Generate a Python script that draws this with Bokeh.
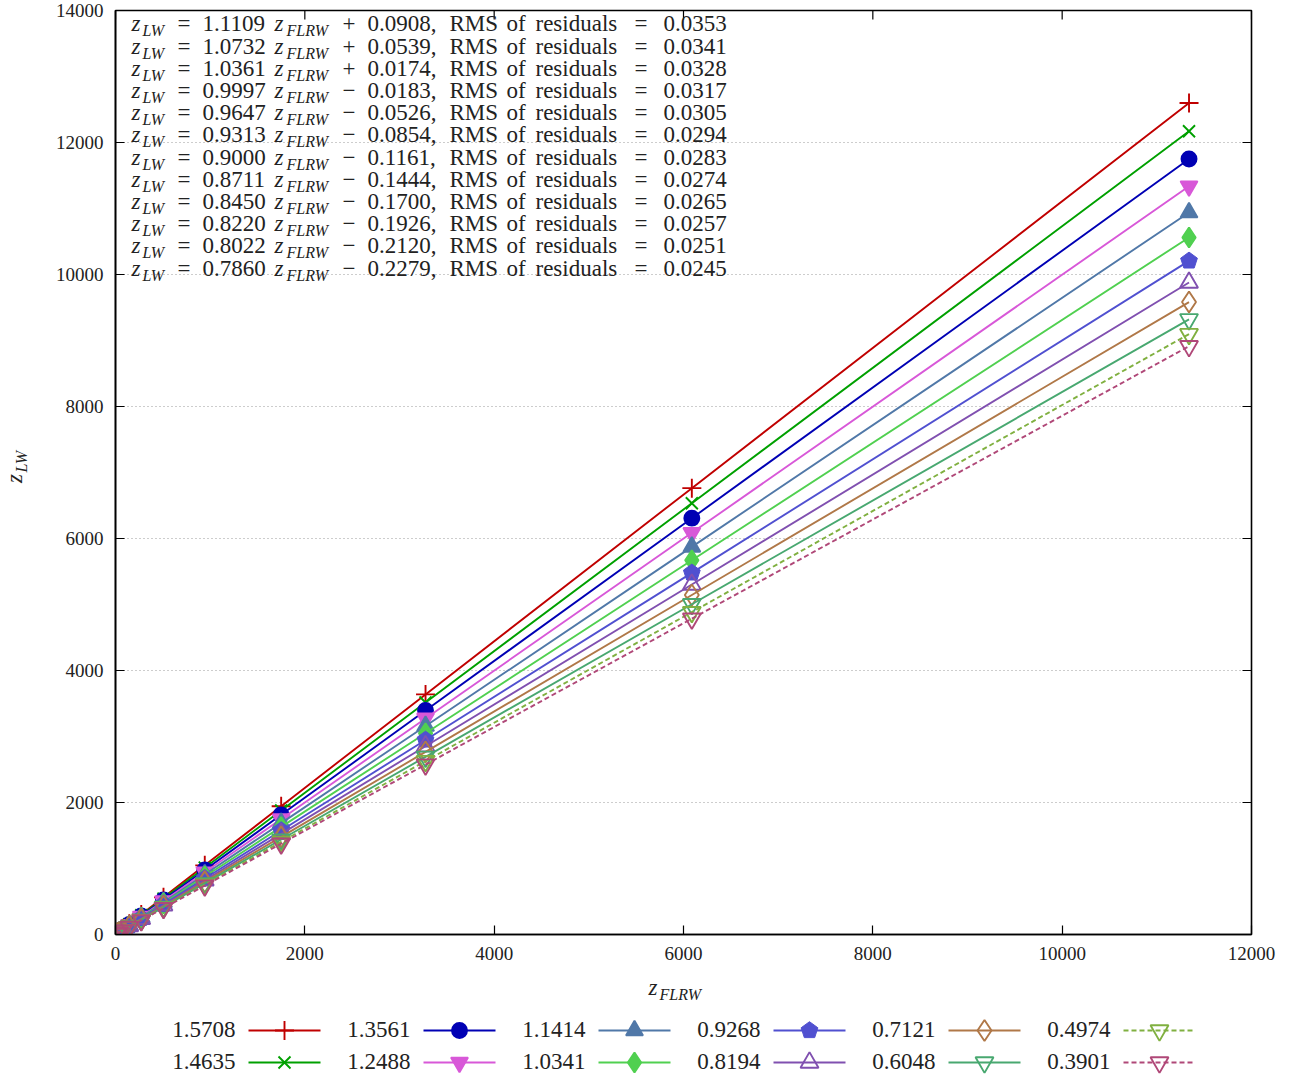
import math
from bokeh.plotting import figure
from bokeh.models import Range1d, FixedTicker
from bokeh.layouts import column, row
from bokeh.embed import file_html
from bokeh.resources import INLINE
from bokeh.core.properties import value

# ---------------- data ----------------
z_flrw = [12, 23, 42, 79, 146, 272, 507, 943, 1750, 3275, 6088, 11340]

legend_labels = ["1.5708", "1.4635", "1.3561", "1.2488", "1.1414", "1.0341",
                 "0.9268", "0.8194", "0.7121", "0.6048", "0.4974", "0.3901"]

z_lw_15708 = [13, 26, 47, 88, 162, 302, 563, 1048, 1944, 3638, 6763, 12598]
z_lw_14635 = [13, 25, 45, 85, 157, 292, 544, 1012, 1878, 3515, 6534, 12170]
z_lw_13561 = [12, 24, 44, 82, 151, 282, 525, 977, 1813, 3393, 6308, 11749]
z_lw_12488 = [12, 23, 42, 79, 146, 272, 507, 943, 1749, 3274, 6086, 11337]
z_lw_11414 = [12, 22, 41, 76, 141, 262, 489, 910, 1688, 3159, 5873, 10940]
z_lw_10341 = [11, 21, 39, 74, 136, 253, 472, 878, 1630, 3050, 5670, 10561]
z_lw_09268 = [11, 21, 38, 71, 131, 245, 456, 849, 1575, 2948, 5479, 10206]
z_lw_08194 = [10, 20, 37, 69, 127, 237, 442, 821, 1524, 2853, 5303, 9878]
z_lw_07121 = [10, 19, 35, 67, 123, 230, 428, 797, 1479, 2767, 5144, 9582]
z_lw_06048 = [10, 19, 35, 65, 120, 224, 417, 775, 1439, 2692, 5004, 9321]
z_lw_04974 = [10, 18, 34, 63, 117, 218, 407, 756, 1404, 2627, 4884, 9097]
z_lw_03901 = [9, 18, 33, 62, 115, 214, 399, 741, 1376, 2574, 4785, 8913]

fit_slopes = ["1.1109", "1.0732", "1.0361", "0.9997", "0.9647", "0.9313",
              "0.9000", "0.8711", "0.8450", "0.8220", "0.8022", "0.7860"]
fit_signs = ["+", "+", "+", "\u2212", "\u2212", "\u2212",
             "\u2212", "\u2212", "\u2212", "\u2212", "\u2212", "\u2212"]
fit_intercepts = ["0.0908", "0.0539", "0.0174", "0.0183", "0.0526", "0.0854",
                  "0.1161", "0.1444", "0.1700", "0.1926", "0.2120", "0.2279"]
fit_rms = ["0.0353", "0.0341", "0.0328", "0.0317", "0.0305", "0.0294",
           "0.0283", "0.0274", "0.0265", "0.0257", "0.0251", "0.0245"]

x_ticks = [0, 2000, 4000, 6000, 8000, 10000, 12000]
y_ticks = [0, 2000, 4000, 6000, 8000, 10000, 12000, 14000]

series_values = [z_lw_15708, z_lw_14635, z_lw_13561, z_lw_12488, z_lw_11414, z_lw_10341,
                 z_lw_09268, z_lw_08194, z_lw_07121, z_lw_06048, z_lw_04974, z_lw_03901]

# ---------------- styles ----------------
colors = ["#c00000", "#00a000", "#0000b4", "#d858d8", "#5078a8", "#50d050",
          "#5050d0", "#8050b0", "#b07848", "#48a870", "#80b040", "#b04878"]
markers = ["cross", "x", "circle", "inverted_triangle", "triangle", "diamond",
           "pentagon", "triangle", "diamond", "inverted_triangle", "inverted_triangle", "inverted_triangle"]
filled = [True, True, True, True, True, True, True, False, False, False, False, False]
dashes = ["solid"] * 10 + ["5 3", "5 3"]
msizes = [19, 17, 15, 17, 17, 20, 16, 18, 21, 18, 18, 18]

FONT = "Liberation Serif"
E_TXT, E_SUB = 23, 16
FS_TICK = "19px"
FS_TXT = "%dpx" % E_TXT
FS_SUB = "%dpx" % E_SUB
TXT = "#222222"
LW = 1.9
SHIFT = 0.35            # renderer places alphabetic baselines this many ems lower
SUB_DROP = 4.5          # subscript baseline drop in px

W_TOTAL = 1304
YLAB_W = 40
P_W = W_TOTAL - YLAB_W
P_H = 970
BOT_H = 110
FRAME_L, FRAME_R, FRAME_T, FRAME_B = 75, 1211, 10, 934   # in p's own coords
PAGE_X0 = YLAB_W + FRAME_L   # page x of the frame's left edge
PAGE_Y0 = FRAME_T            # page y of the frame's top edge
PX_X = 12000 / (FRAME_R - FRAME_L)   # data units per pixel
PX_Y = 14000 / (FRAME_B - FRAME_T)


def draw_marker(fig, xs, ys, marker, color, fill, size, ux=1.0, uy=-1.0):
    if marker == "pentagon":
        r = size * 0.55
        pxs, pys = [], []
        for x0, y0 in zip(xs, ys):
            pxs.append([x0 + r * math.cos(math.radians(90 + 72 * k)) * ux for k in range(5)])
            pys.append([y0 + r * math.sin(math.radians(90 + 72 * k)) * uy for k in range(5)])
        fig.patches(xs=pxs, ys=pys, fill_color=color, line_color=color, line_width=1)
        return
    fig.scatter(x=xs, y=ys, marker=marker, size=size, line_color=color,
                fill_color=color if fill else None, line_width=1.9)


# ---------------- main plot ----------------
p = figure(width=P_W, height=P_H, x_range=Range1d(0, 12000), y_range=Range1d(0, 14000),
           output_backend="svg", toolbar_location=None,
           min_border_left=FRAME_L, min_border_right=P_W - FRAME_R,
           min_border_top=FRAME_T, min_border_bottom=P_H - FRAME_B)
p.background_fill_color = "white"
p.border_fill_color = "white"
p.outline_line_color = "black"
p.outline_line_width = 1.6

for ax, ticks in ((p.xaxis[0], x_ticks), (p.yaxis[0], y_ticks)):
    ax.ticker = FixedTicker(ticks=ticks)
    ax.major_tick_in = 9
    ax.major_tick_out = 0
    ax.major_tick_line_color = "black"
    ax.major_tick_line_width = 1.2
    ax.minor_tick_line_color = None
    ax.axis_line_color = "black"
    ax.axis_line_width = 1.6
    ax.major_label_text_font = FONT
    ax.major_label_text_font_size = FS_TICK
    ax.major_label_text_color = TXT
p.xaxis[0].major_label_standoff = 12
p.yaxis[0].major_label_standoff = 12

p.xgrid.grid_line_color = None
p.ygrid.ticker = FixedTicker(ticks=y_ticks)
p.ygrid.grid_line_color = "#9a9a9a"
p.ygrid.grid_line_dash = "1 3"
p.ygrid.grid_line_width = 1

# mirrored inward ticks on the top and right edges (dash markers clipped by the frame)
p.scatter(x=x_ticks, y=[y_ticks[-1]] * len(x_ticks), marker="dash", angle=math.pi / 2,
          size=18, line_color="black", line_width=1.2)
p.scatter(x=[x_ticks[-1]] * len(y_ticks), y=y_ticks, marker="dash",
          size=18, line_color="black", line_width=1.2)

for vals, c, m, f, d, s in zip(series_values, colors, markers, filled, dashes, msizes):
    p.line(x=z_flrw, y=vals, line_color=c, line_width=LW, line_dash=d)
    draw_marker(p, z_flrw, vals, m, c, f, s, ux=PX_X, uy=PX_Y)

# fit equations (text pieces positioned in pixels from the frame's top-left)
piece_x = {"z1": 131, "sub1": 142, "eq1": 177, "coef": 202, "z2": 274, "sub2": 286,
           "sign": 342, "icpt": 367, "rms_a": 449, "rms_b": 506, "rms_c": 535,
           "eq2": 634, "rms": 663}


def base_param(actual, e):
    return actual - SHIFT * e


for i in range(len(fit_slopes)):
    yc = 24 + 22.2 * i                  # page y of the row centre
    b_main = base_param(yc + 7.5, E_TXT) - PAGE_Y0
    b_sub = base_param(yc + 7.5 + SUB_DROP, E_SUB) - PAGE_Y0
    items = [
        ("z1", "z", "italic", FS_TXT, b_main),
        ("sub1", "LW", "italic", FS_SUB, b_sub),
        ("eq1", "=", "normal", FS_TXT, b_main),
        ("coef", fit_slopes[i], "normal", FS_TXT, b_main),
        ("z2", "z", "italic", FS_TXT, b_main),
        ("sub2", "FLRW", "italic", FS_SUB, b_sub),
        ("sign", fit_signs[i], "normal", FS_TXT, b_main),
        ("icpt", fit_intercepts[i] + ",", "normal", FS_TXT, b_main),
        ("rms_a", "RMS", "normal", FS_TXT, b_main),
        ("rms_b", "of", "normal", FS_TXT, b_main),
        ("rms_c", "residuals", "normal", FS_TXT, b_main),
        ("eq2", "=", "normal", FS_TXT, b_main),
        ("rms", fit_rms[i], "normal", FS_TXT, b_main),
    ]
    for key, txt, style, size, yoff in items:
        p.text(x=[0], y=[14000], text=[txt], x_offset=piece_x[key] - PAGE_X0,
               y_offset=yoff, text_font=value(FONT), text_font_style=value(style),
               text_font_size=value(size), text_color=TXT, text_align="left",
               text_baseline="alphabetic")

# ---------------- y-axis label figure ----------------
yl = figure(width=YLAB_W, height=P_H, x_range=Range1d(0, YLAB_W), y_range=Range1d(P_H, 0),
            output_backend="svg", toolbar_location=None, x_axis_type=None, y_axis_type=None,
            min_border=0)
yl.outline_line_color = None
yl.grid.visible = False
yl.text(x=[base_param(22, E_TXT)], y=[496], text=["z"], angle=math.pi / 2, text_font=value(FONT),
        text_font_style=value("italic"), text_font_size=value(FS_TXT), text_color=TXT,
        text_align="left", text_baseline="alphabetic")
yl.text(x=[base_param(22 + SUB_DROP, E_SUB)], y=[485], text=["LW"], angle=math.pi / 2,
        text_font=value(FONT), text_font_style=value("italic"), text_font_size=value(FS_SUB),
        text_color=TXT, text_align="left", text_baseline="alphabetic")

# ---------------- bottom figure: x label and legend ----------------
BOT_Y0 = P_H
bot = figure(width=W_TOTAL, height=BOT_H, x_range=Range1d(0, W_TOTAL),
             y_range=Range1d(BOT_Y0 + BOT_H, BOT_Y0),
             output_backend="svg", toolbar_location=None, x_axis_type=None, y_axis_type=None,
             min_border=0)
bot.outline_line_color = None
bot.grid.visible = False
bot.text(x=[648], y=[base_param(995, E_TXT)], text=["z"], text_font=value(FONT),
         text_font_style=value("italic"), text_font_size=value(FS_TXT), text_color=TXT,
         text_align="left", text_baseline="alphabetic")
bot.text(x=[659], y=[base_param(995 + SUB_DROP, E_SUB)], text=["FLRW"], text_font=value(FONT),
         text_font_style=value("italic"), text_font_size=value(FS_SUB), text_color=TXT,
         text_align="left", text_baseline="alphabetic")

for i, lab in enumerate(legend_labels):
    col, rw = divmod(i, 2)
    yc = 1030 + 32 * rw
    lx = 235 + 175 * col
    bot.text(x=[lx], y=[base_param(yc + 7.5, E_TXT)], text=[lab], text_font=value(FONT),
             text_font_size=value(FS_TXT), text_color=TXT, text_align="right",
             text_baseline="alphabetic")
    bot.line(x=[lx + 13, lx + 85], y=[yc, yc], line_color=colors[i], line_width=LW,
             line_dash=dashes[i])
    draw_marker(bot, [lx + 49], [yc], markers[i], colors[i], filled[i], msizes[i], ux=1.0, uy=-1.0)

layout = column(row(yl, p), bot)
open("out.html", "w").write(file_html(layout, INLINE))
